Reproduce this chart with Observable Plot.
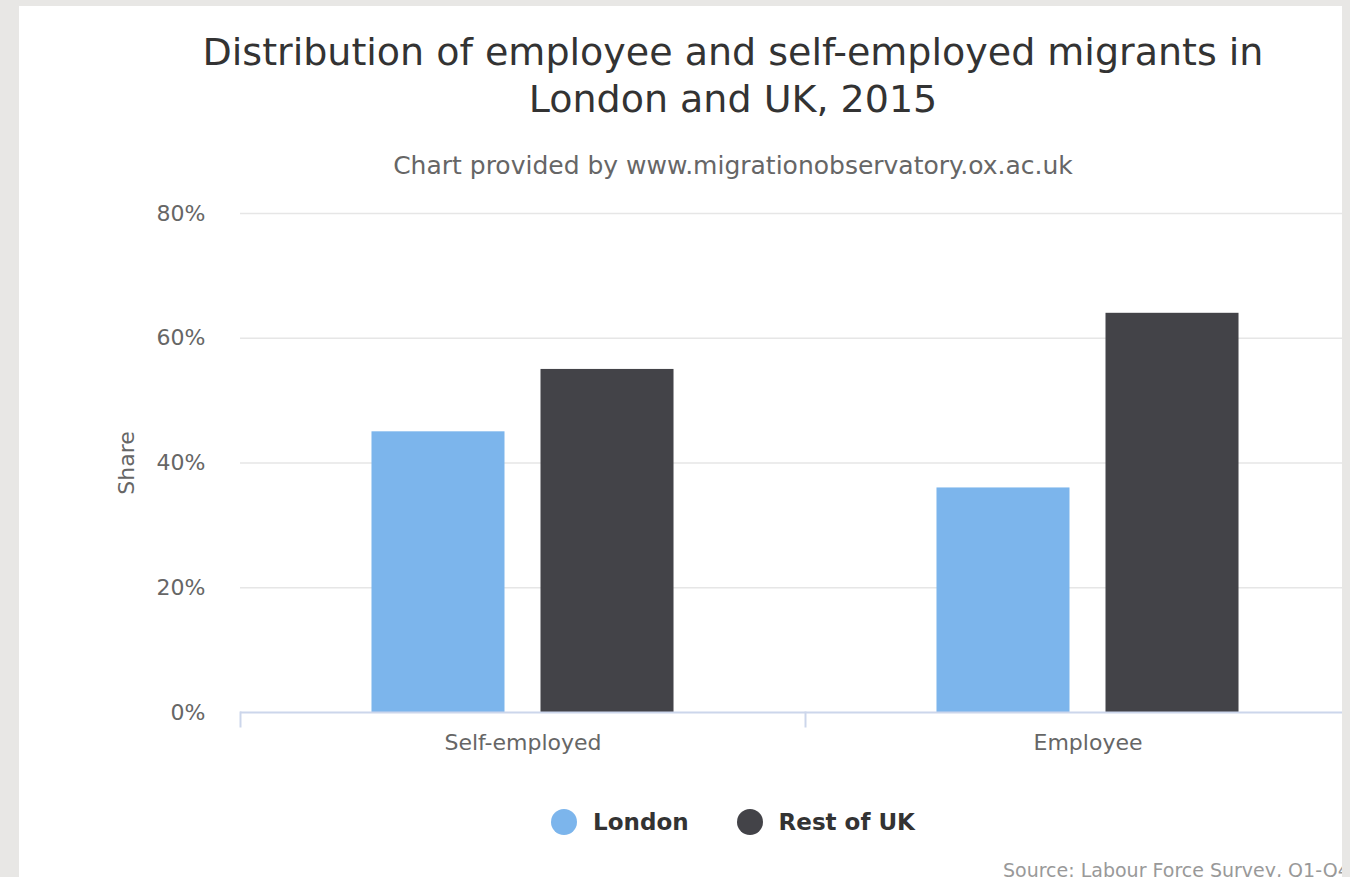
<!DOCTYPE html>
<html>
<head>
<meta charset="utf-8">
<script src="https://cdn.jsdelivr.net/npm/d3@7"></script>
<script src="https://cdn.jsdelivr.net/npm/@observablehq/plot@0.6"></script>
<style>
  html, body { margin: 0; padding: 0; background: #e8e7e5; width: 1350px; height: 877px; overflow: hidden; }
  #panel { position: absolute; left: 19px; top: 6px; width: 1323px; height: 871px; background: #ffffff; overflow: hidden; font-family: "DejaVu Sans", sans-serif; }
  #title { position: absolute; left: 0; top: 23px; width: 1428px; text-align: center; font-size: 38px; line-height: 47px; color: #333333; }
  #subtitle { position: absolute; left: 0; top: 145px; width: 1428px; text-align: center; font-size: 25px; line-height: 30px; color: #666666; }
  #chart { position: absolute; left: 0; top: 180px; width: 1380px; height: 580px; }
  #chart svg { max-width: none !important; }
  #legend { position: absolute; left: 0; top: 797px; width: 1428px; display: flex; justify-content: center; align-items: center; height: 38px; font-size: 23px; font-weight: bold; color: #333333; }
  .item { display: flex; align-items: center; }
  .dot { width: 26px; height: 26px; border-radius: 50%; margin-right: 16px; }
  .item + .item { margin-left: 48px; }
  #source { position: absolute; left: 984px; top: 853px; font-size: 19px; color: #999999; white-space: nowrap; }
</style>
</head>
<body>
<div id="panel">
  <div id="title">Distribution of employee and self-employed migrants in<br>London and UK, 2015</div>
  <div id="subtitle">Chart provided by www.migrationobservatory.ox.ac.uk</div>
  <div id="chart"></div>
  <div id="legend"></div>
  <div id="source">Source: Labour Force Survey, Q1-Q4 2015</div>
</div>
<script>
const categories = ["Self-employed", "Employee"];
const seriesNames = ["London", "Rest of UK"];
const london = [45, 36];
const restOfUK = [55, 64];
const yTicks = [0, 20, 40, 60, 80];
const seriesColors = ["#7cb5ec", "#434348"];

const data = categories.flatMap((c, i) => [
  {category: c, series: seriesNames[0], value: london[i]},
  {category: c, series: seriesNames[1], value: restOfUK[i]}
]);

const W = 1380, H = 580, mT = 27, mB = 54, mL = 221, mR = 29;
const plotH = H - mT - mB;

const chart = Plot.plot({
  width: W,
  height: H,
  marginTop: mT,
  marginBottom: mB,
  marginLeft: mL,
  marginRight: mR,
  style: {fontFamily: "DejaVu Sans, sans-serif", fontSize: "22px", color: "#666666", background: "transparent", overflow: "visible", maxWidth: "none"},
  fx: {domain: categories, padding: 0, round: false, label: null},
  x: {domain: seriesNames, paddingInner: 0.213, paddingOuter: 0.778, round: false, axis: null},
  y: {domain: [0, 80], label: "Share"},
  color: {domain: seriesNames, range: seriesColors},
  marks: [
    Plot.gridY(yTicks.filter(d => d > 0), {stroke: "#e6e6e6", strokeOpacity: 1, strokeWidth: 1.5}),
    Plot.barY(data, {fx: "category", x: "series", y: "value", fill: "series"}),
    Plot.ruleY([0], {stroke: "#ccd6eb", strokeWidth: 2}),
    Plot.frame({anchor: "left", stroke: "#ccd6eb", strokeWidth: 2, insetTop: plotH, insetBottom: -14}),
    Plot.axisY({ticks: yTicks, tickFormat: d => d + "%", tickSize: 0, tickPadding: 35, label: "Share", labelAnchor: "center", labelOffset: 122, labelArrow: "none", fill: "#666666"}),
    Plot.axisFx({anchor: "bottom", tickSize: 0, tickPadding: 22, label: null, fill: "#666666"})
  ]
});
chart.style.maxWidth = "none";
document.getElementById("chart").appendChild(chart);

const legend = document.getElementById("legend");
seriesNames.forEach((s, i) => {
  const item = document.createElement("div");
  item.className = "item";
  const dot = document.createElement("span");
  dot.className = "dot";
  dot.style.background = seriesColors[i];
  const label = document.createElement("span");
  label.textContent = s;
  item.appendChild(dot);
  item.appendChild(label);
  legend.appendChild(item);
});
</script>
</body>
</html>
